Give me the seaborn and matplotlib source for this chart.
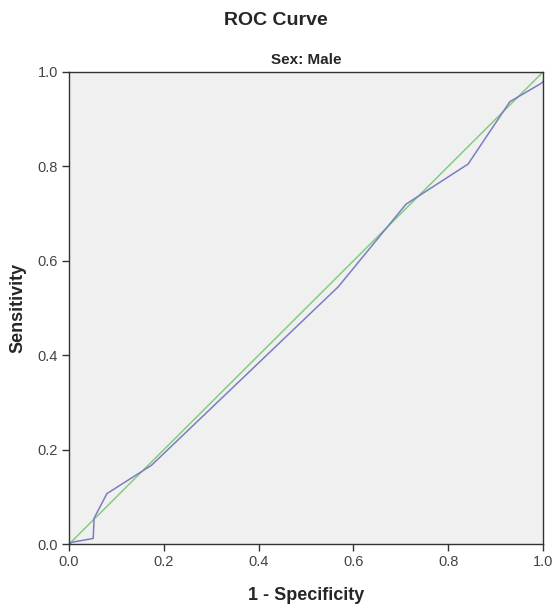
import matplotlib
matplotlib.use("Agg")
import matplotlib.pyplot as plt
import seaborn as sns
import pandas as pd

fpr = [0.0, 0.006, 0.051, 0.053, 0.080, 0.174, 0.568, 0.711, 0.842, 0.930, 0.998, 1.0]
tpr = [0.0, 0.004, 0.012, 0.055, 0.107, 0.167, 0.545, 0.720, 0.805, 0.937, 0.977, 0.98]
ref = [0.0, 1.0]
ticks = [0.0, 0.2, 0.4, 0.6, 0.8, 1.0]
tick_labels = ["0.0", "0.2", "0.4", "0.6", "0.8", "1.0"]

sns.set_style("white")
plt.rcParams['font.family'] = ['Liberation Sans', 'DejaVu Sans']

fig = plt.figure(figsize=(5.52, 6.10), dpi=100)
ax = fig.add_axes([0.125, 0.108, 0.8587, 0.774])
ax.set_facecolor("#f0f0f0")

roc = pd.DataFrame({"fpr": fpr, "tpr": tpr})
diag = pd.DataFrame({"x": ref, "y": ref})
sns.lineplot(data=diag, x="x", y="y", ax=ax, color="#7fcf7f", linewidth=1.1, sort=False)
sns.lineplot(data=roc, x="fpr", y="tpr", ax=ax, color="#7c7cc4", linewidth=1.1, sort=False)

ax.set_xlim(0, 1)
ax.set_ylim(0, 1)
ax.set_xticks(ticks)
ax.set_xticklabels(tick_labels)
ax.set_yticks(ticks)
ax.set_yticklabels(tick_labels)
ax.tick_params(axis="both", direction="out", length=5, width=1, color="#333333",
               labelsize=10.5, labelcolor="#444444", pad=3, bottom=True, left=True)
for s in ax.spines.values():
    s.set_color("#333333")
    s.set_linewidth(1.0)

ax.set_xlabel("1 - Specificity", fontsize=13, fontweight="bold", labelpad=13)
ax.set_ylabel("Sensitivity", fontsize=13, fontweight="bold", labelpad=8)
ax.set_title("Sex: Male", fontsize=11, fontweight="bold", pad=6)
fig.text(0.5, 0.966, "ROC Curve", ha="center", va="center", fontsize=14, fontweight="bold")

fig.savefig("out.png", dpi=100)
